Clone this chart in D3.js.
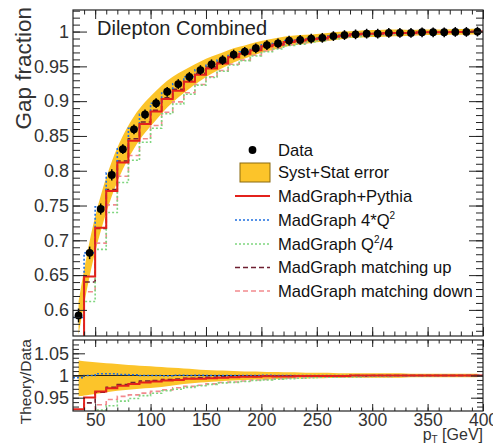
<!DOCTYPE html>
<html><head><meta charset="utf-8">
<script src="https://cdn.jsdelivr.net/npm/d3@7"></script>
<style>
html,body{margin:0;padding:0;background:#fff;}
svg{display:block;font-family:"Liberation Sans",Arial,Helvetica,sans-serif;}
</style></head>
<body>
<svg id="c" width="493" height="444"></svg>
<script>
// ---------- data ----------
const binCenters = [35,45,55,65,75,85,95,105,115,125,135,145,155,165,175,185,195,205,215,225,235,245,255,265,275,285,295,305,315,325,335,345,355,365,375,385,395];
const binEdges = [30,40,50,60,70,80,90,100,110,120,130,140,150,160,170,180,190,200,210,220,230,240,250,260,270,280,290,300,310,320,330,340,350,360,370,380,390,400];
const gapData = [0.592,0.682,0.745,0.794,0.831,0.8595,0.881,0.897,0.9135,0.9246,0.935,0.9447,0.953,0.959,0.967,0.971,0.976,0.9806,0.983,0.987,0.988,0.990,0.991,0.9935,0.995,0.996,0.997,0.997,0.998,0.998,0.998,0.999,0.999,0.999,0.9995,0.9995,1.0];
const statErr = [0.010,0.009,0.008,0.008,0.007,0.007,0.007,0.007,0.007,0.007,0.007,0.007,0.007,0.007,0.007,0.007,0.007,0.007,0.007,0.007,0.007,0.007,0.007,0.007,0.007,0.007,0.007,0.007,0.007,0.007,0.007,0.007,0.007,0.007,0.007,0.007,0.007];
const relUp   = [0.034,0.031,0.029,0.027,0.025,0.023,0.021,0.020,0.018,0.017,0.015,0.013,0.012,0.011,0.010,0.009,0.009,0.008,0.008,0.007,0.007,0.006,0.006,0.006,0.005,0.005,0.005,0.005,0.005,0.005,0.004,0.004,0.004,0.004,0.004,0.004,0.004];
const relDown = [0.047,0.043,0.040,0.036,0.033,0.031,0.029,0.027,0.024,0.021,0.018,0.016,0.014,0.012,0.011,0.010,0.009,0.009,0.008,0.007,0.007,0.006,0.006,0.006,0.005,0.005,0.005,0.005,0.005,0.005,0.004,0.004,0.004,0.004,0.004,0.004,0.004];
const mgPythia    = [0.547,0.648,0.718,0.771,0.812,0.843,0.867,0.885,0.903,0.915,0.928,0.938,0.947,0.954,0.963,0.968,0.973,0.979,0.981,0.985,0.987,0.989,0.990,0.9925,0.994,0.996,0.997,0.997,0.998,0.998,0.998,0.999,0.999,0.999,0.9995,0.9995,1.0];
const mg4Q2       = [0.589,0.682,0.748,0.797,0.833,0.861,0.881,0.897,0.913,0.925,0.935,0.945,0.953,0.959,0.967,0.971,0.976,0.981,0.983,0.987,0.988,0.990,0.991,0.9935,0.995,0.996,0.997,0.997,0.998,0.998,0.998,0.999,0.999,0.999,0.9995,0.9995,1.0];
const mgQ2over4   = [0.503,0.612,0.687,0.740,0.783,0.815,0.841,0.861,0.882,0.896,0.910,0.923,0.934,0.943,0.952,0.958,0.965,0.971,0.975,0.980,0.982,0.985,0.987,0.9895,0.992,0.993,0.995,0.995,0.996,0.997,0.997,0.998,0.998,0.999,0.999,0.999,0.9995];
const mgMatchUp   = [0.542,0.640,0.717,0.773,0.814,0.846,0.870,0.887,0.905,0.917,0.929,0.940,0.949,0.956,0.964,0.969,0.974,0.979,0.982,0.986,0.987,0.989,0.990,0.993,0.994,0.996,0.996,0.997,0.998,0.998,0.998,0.999,0.999,0.999,0.9995,0.9995,1.0];
const mgMatchDown = [0.521,0.626,0.696,0.751,0.792,0.822,0.846,0.865,0.884,0.899,0.912,0.924,0.935,0.944,0.953,0.959,0.966,0.972,0.976,0.981,0.983,0.986,0.988,0.990,0.992,0.994,0.995,0.996,0.996,0.997,0.997,0.998,0.998,0.999,0.999,0.9995,0.9995];
const yTicksTop = [0.6,0.65,0.7,0.75,0.8,0.85,0.9,0.95,1];
const yTicksRatio = [0.95,1,1.05];
const xTicks = [50,100,150,200,250,300,350,400];
const legendLabels = ["Data","Syst+Stat error","MadGraph+Pythia","MadGraph 4*Q²","MadGraph Q²/4","MadGraph matching up","MadGraph matching down"];

// ---------- layout ----------
const X0 = 73, X1 = 483;
const T0 = 10, T1 = 336;   // top panel
const R0 = 340, R1 = 411;  // ratio panel
const svg = d3.select("#c");
const x = d3.scaleLinear().domain([30,400]).range([X0,X1]);
const y = d3.scaleLinear().domain([0.5625,1.031]).range([T1,T0]);
const yr = d3.scaleLinear().domain([0.92,1.08]).range([R1,R0]);

const BAND = "#fcc42a", AX = "#222";
const series = [
  {vals: mgPythia,    color:"#e3211c", dash:null,  w:2},
  {vals: mg4Q2,       color:"#1f6fe0", dash:"2,2", w:1.6},
  {vals: mgQ2over4,   color:"#7fd67f", dash:"2,2", w:1.6},
  {vals: mgMatchUp,   color:"#6e1f30", dash:"5,3", w:1.6},
  {vals: mgMatchDown, color:"#f28a8e", dash:"5,3", w:1.6}
];

const defs = svg.append("defs");
defs.append("clipPath").attr("id","clipT").append("rect").attr("x",X0).attr("y",T0).attr("width",X1-X0).attr("height",T1-T0);
defs.append("clipPath").attr("id","clipR").append("rect").attr("x",X0).attr("y",R0).attr("width",X1-X0).attr("height",R1-R0);

// ---------- top panel ----------
const gT = svg.append("g").attr("clip-path","url(#clipT)");
const bandTop = d3.area().curve(d3.curveBasis)
  .x((d,i)=>x(binCenters[i]))
  .y0((d,i)=>y(d*(1-relDown[i])))
  .y1((d,i)=>y(d*(1+relUp[i])));
gT.append("path").datum(gapData).attr("d",bandTop).attr("fill",BAND);

function stepPts(vals){
  const pts = vals.map((v,i)=>[binEdges[i], v]);
  pts.push([binEdges[binEdges.length-1], vals[vals.length-1]]);
  return pts;
}
const stepLine = d3.line().curve(d3.curveStepAfter).x(d=>x(d[0])).y(d=>y(d[1]));
[...series].reverse().forEach(s=>{
  gT.append("path").datum(stepPts(s.vals)).attr("d",stepLine)
    .attr("fill","none").attr("stroke",s.color).attr("stroke-width",s.w)
    .attr("stroke-dasharray",s.dash);
});
// data points
const pts = gT.append("g");
gapData.forEach((v,i)=>{
  pts.append("line").attr("x1",x(binCenters[i])).attr("x2",x(binCenters[i]))
    .attr("y1",y(v-statErr[i])).attr("y2",y(v+statErr[i]))
    .attr("stroke","#000").attr("stroke-width",1.5);
  pts.append("circle").attr("cx",x(binCenters[i])).attr("cy",y(v)).attr("r",3.9).attr("fill","#000");
});

// ---------- ratio panel ----------
const gR = svg.append("g").attr("clip-path","url(#clipR)");
const bandR = d3.area().curve(d3.curveBasis)
  .x((d,i)=>x(binCenters[i]))
  .y0((d,i)=>yr(1-relDown[i]))
  .y1((d,i)=>yr(1+relUp[i]));
gR.append("path").datum(gapData).attr("d",bandR).attr("fill",BAND);
gR.append("line").attr("x1",X0).attr("x2",X1).attr("y1",yr(1)).attr("y2",yr(1)).attr("stroke","#222").attr("stroke-width",1);
const stepLineR = d3.line().curve(d3.curveStepAfter).x(d=>x(d[0])).y(d=>yr(d[1]));
[...series].reverse().forEach(s=>{
  const ratio = s.vals.map((v,i)=>v/gapData[i]);
  gR.append("path").datum(stepPts(ratio)).attr("d",stepLineR)
    .attr("fill","none").attr("stroke",s.color).attr("stroke-width",s.w)
    .attr("stroke-dasharray",s.dash);
});

// ---------- axes ----------
function minorRange(a,b,s){ const r=[]; for(let v=a; v<=b+1e-9; v+=s) r.push(+v.toFixed(4)); return r; }
const fmt = d=>String(d);
function styleAxis(g){ g.select(".domain").remove(); g.selectAll("line").attr("stroke",AX).attr("stroke-width",1); g.selectAll("text").attr("fill","#333").attr("font-family","Liberation Sans, Arial, sans-serif"); }

// top panel y
svg.append("g").attr("transform",`translate(${X0},0)`).call(d3.axisLeft(y).tickValues(yTicksTop).tickFormat(fmt).tickSize(-14).tickPadding(4)).call(styleAxis).selectAll("text").attr("font-size",18);
svg.append("g").attr("transform",`translate(${X0},0)`).call(d3.axisLeft(y).tickValues(minorRange(0.57,1.03,0.01)).tickFormat("").tickSize(-7)).call(styleAxis);
svg.append("g").attr("transform",`translate(${X1},0)`).call(d3.axisRight(y).tickValues(yTicksTop).tickFormat("").tickSize(-14)).call(styleAxis);
svg.append("g").attr("transform",`translate(${X1},0)`).call(d3.axisRight(y).tickValues(minorRange(0.57,1.03,0.01)).tickFormat("").tickSize(-7)).call(styleAxis);
// top panel x (no labels)
svg.append("g").attr("transform",`translate(0,${T1})`).call(d3.axisBottom(x).tickValues(xTicks).tickFormat("").tickSize(-9)).call(styleAxis);
svg.append("g").attr("transform",`translate(0,${T1})`).call(d3.axisBottom(x).tickValues(minorRange(40,400,10)).tickFormat("").tickSize(-4.5)).call(styleAxis);
svg.append("g").attr("transform",`translate(0,${T0})`).call(d3.axisTop(x).tickValues(xTicks).tickFormat("").tickSize(-9)).call(styleAxis);
svg.append("g").attr("transform",`translate(0,${T0})`).call(d3.axisTop(x).tickValues(minorRange(40,400,10)).tickFormat("").tickSize(-4.5)).call(styleAxis);

// ratio y
svg.append("g").attr("transform",`translate(${X0},0)`).call(d3.axisLeft(yr).tickValues(yTicksRatio).tickFormat(fmt).tickSize(-12).tickPadding(4)).call(styleAxis).selectAll("text").attr("font-size",18);
svg.append("g").attr("transform",`translate(${X0},0)`).call(d3.axisLeft(yr).tickValues(minorRange(0.93,1.07,0.01)).tickFormat("").tickSize(-6)).call(styleAxis);
svg.append("g").attr("transform",`translate(${X1},0)`).call(d3.axisRight(yr).tickValues(yTicksRatio).tickFormat("").tickSize(-12)).call(styleAxis);
svg.append("g").attr("transform",`translate(${X1},0)`).call(d3.axisRight(yr).tickValues(minorRange(0.93,1.07,0.01)).tickFormat("").tickSize(-6)).call(styleAxis);
// ratio x
svg.append("g").attr("transform",`translate(0,${R1})`).call(d3.axisBottom(x).tickValues(xTicks).tickFormat(fmt).tickSize(-7).tickPadding(3)).call(styleAxis).selectAll("text").attr("font-size",17.5);
svg.append("g").attr("transform",`translate(0,${R1})`).call(d3.axisBottom(x).tickValues(minorRange(40,400,10)).tickFormat("").tickSize(-3.5)).call(styleAxis);
svg.append("g").attr("transform",`translate(0,${R0})`).call(d3.axisTop(x).tickValues(xTicks).tickFormat("").tickSize(-7)).call(styleAxis);
svg.append("g").attr("transform",`translate(0,${R0})`).call(d3.axisTop(x).tickValues(minorRange(40,400,10)).tickFormat("").tickSize(-3.5)).call(styleAxis);

// frames
svg.append("rect").attr("x",X0).attr("y",T0).attr("width",X1-X0).attr("height",T1-T0).attr("fill","none").attr("stroke",AX).attr("stroke-width",1.2);
svg.append("rect").attr("x",X0).attr("y",R0).attr("width",X1-X0).attr("height",R1-R0).attr("fill","none").attr("stroke",AX).attr("stroke-width",1.2);

// titles
svg.append("text").attr("transform","translate(31,7) rotate(-90)").attr("text-anchor","end")
  .attr("font-size",22.5).attr("fill","#333").text("Gap fraction");
svg.append("text").attr("transform","translate(31,339) rotate(-90)").attr("text-anchor","end")
  .attr("font-size",15.5).attr("fill","#333").text("Theory/Data");
const xt = svg.append("text").attr("x",483).attr("y",439.5).attr("text-anchor","end").attr("font-size",16).attr("fill","#333");
xt.append("tspan").text("p");
xt.append("tspan").attr("font-size",10).attr("dy",3).text("T");
xt.append("tspan").attr("dy",-3).text(" [GeV]");
svg.append("text").attr("x",97).attr("y",35).attr("font-size",20).attr("fill","#222").text("Dilepton Combined");

// legend
const LX = 278, LY = [150,172.5,196,220,244,267.5,291];
const lg = svg.append("g").attr("font-size",16.6).attr("fill","#111");
lg.append("circle").attr("cx",252.5).attr("cy",LY[0]).attr("r",3.9).attr("fill","#000");
lg.append("rect").attr("x",240).attr("y",LY[1]-9.5).attr("width",30).attr("height",19).attr("fill",BAND).attr("stroke","#8a6a10").attr("stroke-width",1);
series.forEach((s,i)=>{
  lg.append("line").attr("x1",235).attr("x2",270).attr("y1",LY[i+2]).attr("y2",LY[i+2])
    .attr("stroke",s.color).attr("stroke-width",s.w).attr("stroke-dasharray",s.dash);
});
legendLabels.forEach((t,i)=>{
  const tx = lg.append("text").attr("x",LX).attr("y",LY[i]).attr("dy","0.36em");
  if (t.includes("²")) {
    const parts = t.split("²");
    tx.append("tspan").text(parts[0]);
    tx.append("tspan").attr("font-size",10).attr("dy",-7).text("2");
    tx.append("tspan").attr("dy",7).text(parts[1]);
  } else tx.text(t);
});
</script>
</body></html>
